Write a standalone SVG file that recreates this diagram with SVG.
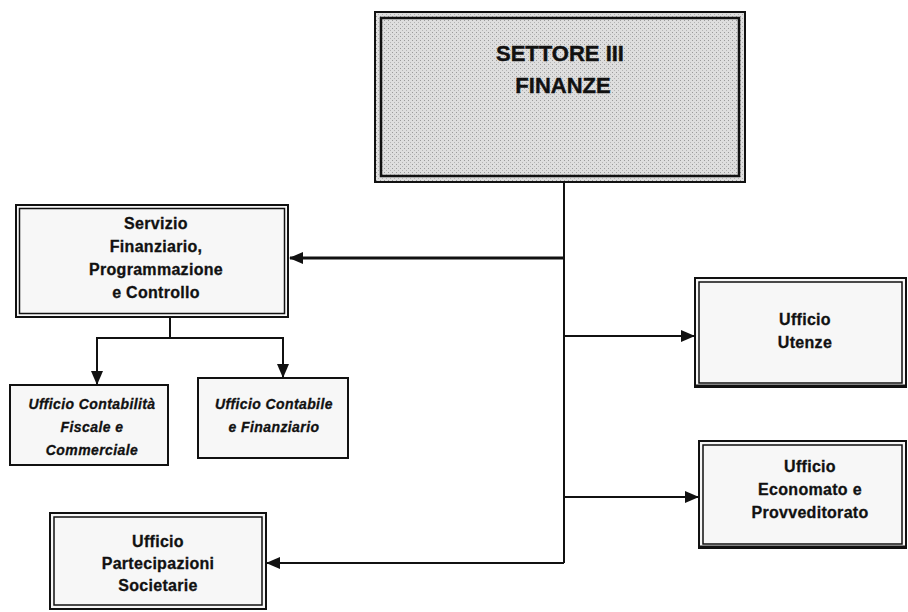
<svg xmlns="http://www.w3.org/2000/svg" width="908" height="612" viewBox="0 0 908 612">
<defs>
<marker id="ah" markerUnits="userSpaceOnUse" markerWidth="14" markerHeight="12" refX="13" refY="6" orient="auto">
<path d="M0,0 L14,6 L0,12 Z" fill="#111"/>
</marker>
<pattern id="dots" width="4" height="4" patternUnits="userSpaceOnUse">
<rect width="4" height="4" fill="#dedede"/>
<rect x="0" y="0" width="1" height="1" fill="#9a9a9a"/>
<rect x="2" y="2" width="1" height="1" fill="#b4b4b4"/>
</pattern>
<style>
.outer{fill:none;stroke:#111;stroke-width:2}
.inner{fill:none;stroke:#111;stroke-width:1.5}
.light{fill:#f7f7f7}
.shadow{fill:none;stroke:#111;stroke-width:3}
.lbl{font-family:"Liberation Sans",Arial,sans-serif;font-weight:bold;font-size:16px;fill:#111;stroke:#111;stroke-width:0.3;text-anchor:middle;letter-spacing:0.3px}
.ital{font-family:"Liberation Sans",Arial,sans-serif;font-weight:bold;font-style:italic;font-size:14px;fill:#111;stroke:#111;stroke-width:0.3;text-anchor:middle;letter-spacing:0.4px}
.title{font-family:"Liberation Sans",Arial,sans-serif;font-weight:bold;font-size:22px;fill:#111;stroke:#111;stroke-width:0.4;text-anchor:middle}
.con{fill:none;stroke:#111;stroke-width:2}
.arr{fill:none;stroke:#111;stroke-width:2;marker-end:url(#ah)}
</style>
</defs>

<g id="settore">
<rect x="375" y="12" width="370" height="170" fill="url(#dots)"/>
<rect class="outer" x="375" y="12" width="370" height="170"/>
<rect class="inner" x="381" y="18" width="358" height="158" style="stroke-width:2.5"/>
<text class="title" x="560" y="61">SETTORE III</text>
<text class="title" x="563" y="93">FINANZE</text>
</g>

<g id="servizio">
<rect class="light" x="16" y="205" width="272" height="112"/>
<rect class="outer" x="16" y="205" width="272" height="112"/>
<rect class="inner" x="19.5" y="208.5" width="265" height="105"/>
<text class="lbl" x="156" y="229">Servizio</text>
<text class="lbl" x="156" y="252">Finanziario,</text>
<text class="lbl" x="156" y="275">Programmazione</text>
<text class="lbl" x="156" y="298">e Controllo</text>
</g>

<g id="contabilita">
<rect class="light" x="10" y="385" width="158" height="80"/>
<rect class="outer" x="10" y="385" width="158" height="80"/>
<text class="ital" x="92" y="409">Ufficio Contabilità</text>
<text class="ital" x="92" y="432">Fiscale e</text>
<text class="ital" x="92" y="455">Commerciale</text>
</g>

<g id="contabile">
<rect class="light" x="198" y="378" width="150" height="80"/>
<rect class="outer" x="198" y="378" width="150" height="80"/>
<text class="ital" x="274" y="409">Ufficio Contabile</text>
<text class="ital" x="274" y="432">e Finanziario</text>
</g>

<g id="utenze">
<rect class="light" x="695" y="278" width="211" height="109"/>
<rect class="outer" x="695" y="278" width="211" height="109"/>
<rect class="inner" x="699" y="282" width="203" height="101"/>
<path class="shadow" d="M695,386 H906"/>
<text class="lbl" x="805" y="325">Ufficio</text>
<text class="lbl" x="805" y="348">Utenze</text>
</g>

<g id="economato">
<rect class="light" x="699" y="441" width="207" height="107"/>
<rect class="outer" x="699" y="441" width="207" height="107"/>
<rect class="inner" x="703" y="445" width="199" height="99"/>
<path class="shadow" d="M699,547 H906"/>
<text class="lbl" x="810" y="472">Ufficio</text>
<text class="lbl" x="810" y="495">Economato e</text>
<text class="lbl" x="810" y="518">Provveditorato</text>
</g>

<g id="partecipazioni">
<rect class="light" x="50" y="513" width="216" height="96"/>
<rect class="outer" x="50" y="513" width="216" height="96"/>
<rect class="inner" x="54" y="517" width="208" height="88"/>
<text class="lbl" x="158" y="547">Ufficio</text>
<text class="lbl" x="158" y="569">Partecipazioni</text>
<text class="lbl" x="158" y="591">Societarie</text>
</g>

<g id="connectors">
<path class="con" d="M564,182 V563"/>
<path class="arr" d="M564,258 H290" style="stroke-width:3"/>
<path class="arr" d="M564,336 H694"/>
<path class="arr" d="M564,497 H698"/>
<path class="arr" d="M564,563 H267"/>
<path class="con" d="M170,317 V338 M97,338 H283"/>
<path class="arr" d="M97,337 V384"/>
<path class="arr" d="M283,337 V377"/>
</g>
</svg>
